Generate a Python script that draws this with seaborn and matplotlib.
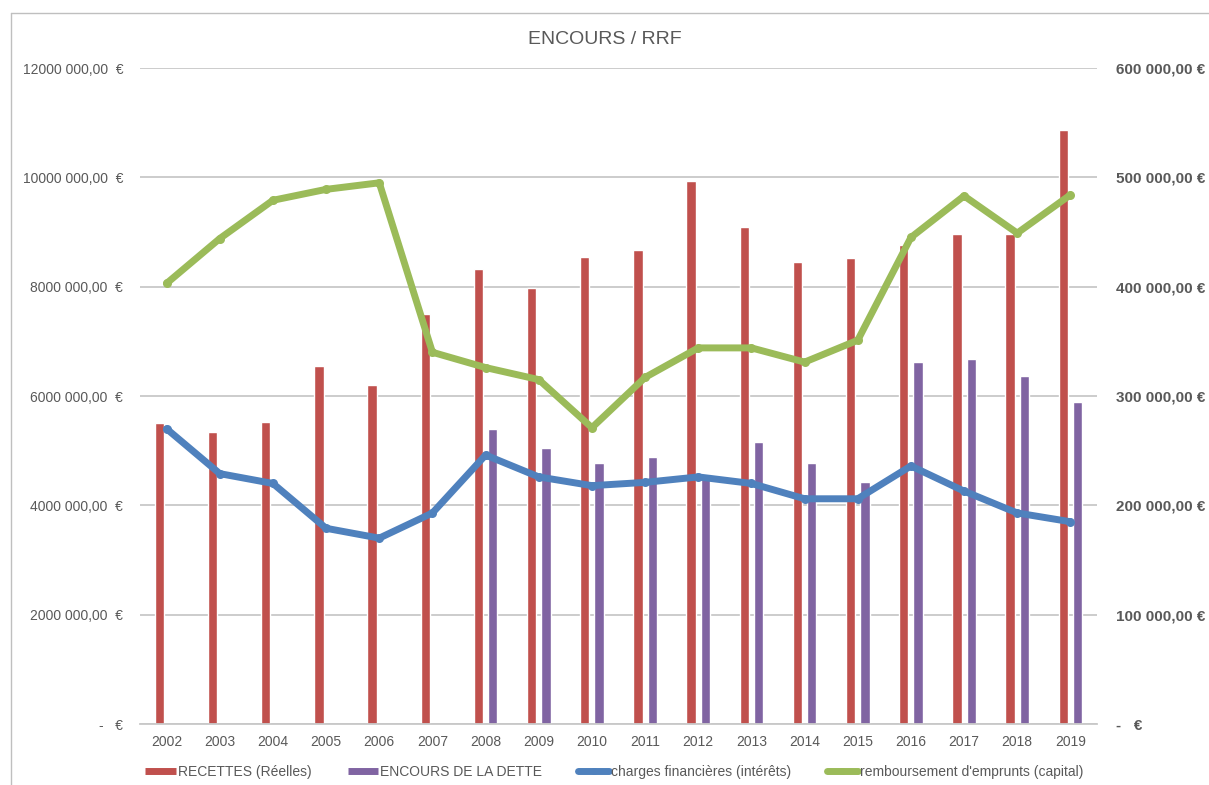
import matplotlib
matplotlib.use("Agg")
import matplotlib.pyplot as plt
import numpy as np
import pandas as pd
import seaborn as sns
from matplotlib.lines import Line2D

# data
years = [str(y) for y in range(2002, 2020)]
recettes = [5500000, 5340000, 5520000, 6540000, 6200000, 7500000, 8320000, 7970000, 8540000,
            8670000, 9930000, 9100000, 8450000, 8520000, 8760000, 8960000, 8960000, 10860000]
encours = [np.nan, np.nan, np.nan, np.nan, np.nan, np.nan, 5390000, 5050000, 4770000,
           4880000, 4570000, 5160000, 4770000, 4420000, 6620000, 6670000, 6360000, 5890000]
charges = [270000, 229000, 220000, 179000, 170000, 193000, 246000, 226000, 218000,
           221000, 226000, 220000, 206000, 206000, 236000, 213000, 193000, 185000]
remboursement = [403000, 444000, 479000, 489000, 495000, 340000, 326000, 315000, 271000,
                 317000, 344000, 344000, 331000, 351000, 445000, 483000, 449000, 484000]

bar_names = ["RECETTES (Réelles)", "ENCOURS DE LA DETTE"]
line_names = ["charges financières (intérêts)", "remboursement d'emprunts (capital)"]

left_ticks = [0, 2000000, 4000000, 6000000, 8000000, 10000000, 12000000]
left_labels = ["-   €", "2000 000,00  €", "4000 000,00  €", "6000 000,00  €",
               "8000 000,00  €", "10000 000,00  €", "12000 000,00  €"]
right_ticks = [0, 100000, 200000, 300000, 400000, 500000, 600000]
right_labels = ["-   €", "100 000,00 €", "200 000,00 €", "300 000,00 €",
                "400 000,00 €", "500 000,00 €", "600 000,00 €"]

red = "#C0504D"
purple = "#8064A2"
blue = "#4F81BD"
green = "#9BBB59"
txt = "#595959"
grid = "#C8C8C8"

bars = pd.DataFrame({
    "annee": years * 2,
    "valeur": recettes + encours,
    "serie": [bar_names[0]] * len(years) + [bar_names[1]] * len(years),
}).dropna()
lines = pd.DataFrame({
    "annee": years * 2,
    "valeur": charges + remboursement,
    "serie": [line_names[0]] * len(years) + [line_names[1]] * len(years),
})

sns.set_theme(style="white")
plt.rcParams["font.family"] = ["Liberation Sans", "DejaVu Sans"]

fig = plt.figure(figsize=(12.09, 7.85), dpi=100)
ax = fig.add_axes([140 / 1209, 61 / 785, 957 / 1209, 656 / 785])

sns.barplot(data=bars, x="annee", y="valeur", hue="serie", order=years, hue_order=bar_names,
            palette=[red, purple], width=0.54, gap=0.35, errorbar=None, saturation=1,
            legend=False, ax=ax)

ax2 = ax.twinx()
sns.pointplot(data=lines, x="annee", y="valeur", hue="serie", order=years, hue_order=line_names,
              palette=[blue, green], markers="o", markersize=6.5, markeredgewidth=0,
              linewidth=5, errorbar=None, legend=False, ax=ax2)

ax.set_xlim(-0.5, len(years) - 0.5)
ax.set_ylim(0, 12000000)
ax2.set_ylim(0, 600000)

ax.set_yticks(left_ticks, left_labels)
ax2.set_yticks(right_ticks, right_labels)
ax.yaxis.grid(True, color=grid, linewidth=1.3)
ax.set_axisbelow(True)
ax.set_xlabel("")
ax.set_ylabel("")
ax2.set_xlabel("")
ax2.set_ylabel("")

for a in (ax, ax2):
    for s in a.spines.values():
        s.set_visible(False)
ax.spines["bottom"].set_visible(True)
ax.spines["bottom"].set_color(grid)
ax.spines["bottom"].set_linewidth(1.3)

ax.tick_params(axis="y", length=0, pad=12, labelsize=10, labelcolor=txt)
ax.tick_params(axis="x", length=0, pad=8, labelsize=10, labelcolor=txt)
ax2.tick_params(axis="y", length=0, pad=14, labelsize=11, labelcolor=txt)
for lab in ax2.get_yticklabels():
    lab.set_fontweight("bold")

fig.text(0.5, 1 - 39 / 785, "ENCOURS / RRF", ha="center", va="center", fontsize=14, color=txt)

handles = [
    Line2D([], [], color=red, lw=5, solid_capstyle="butt"),
    Line2D([], [], color=purple, lw=5, solid_capstyle="butt"),
    Line2D([], [], color=blue, lw=5, marker="o", markersize=5, markeredgewidth=0),
    Line2D([], [], color=green, lw=5, marker="o", markersize=5, markeredgewidth=0),
]
fig.legend(handles, bar_names + line_names, loc="center", bbox_to_anchor=(0.508, 13 / 785),
           ncol=4, frameon=False, fontsize=10, handlelength=2.2, handletextpad=0.15,
           columnspacing=2.6, labelcolor=txt)

# outer frame of the chart area (top and left edges visible)
fig.add_artist(Line2D([11 / 1209, 1], [1 - 13 / 785, 1 - 13 / 785], color="#BFBFBF", lw=1,
                      transform=fig.transFigure))
fig.add_artist(Line2D([11 / 1209, 11 / 1209], [0, 1 - 13 / 785], color="#BFBFBF", lw=1,
                      transform=fig.transFigure))

fig.savefig("out.png", dpi=100)
